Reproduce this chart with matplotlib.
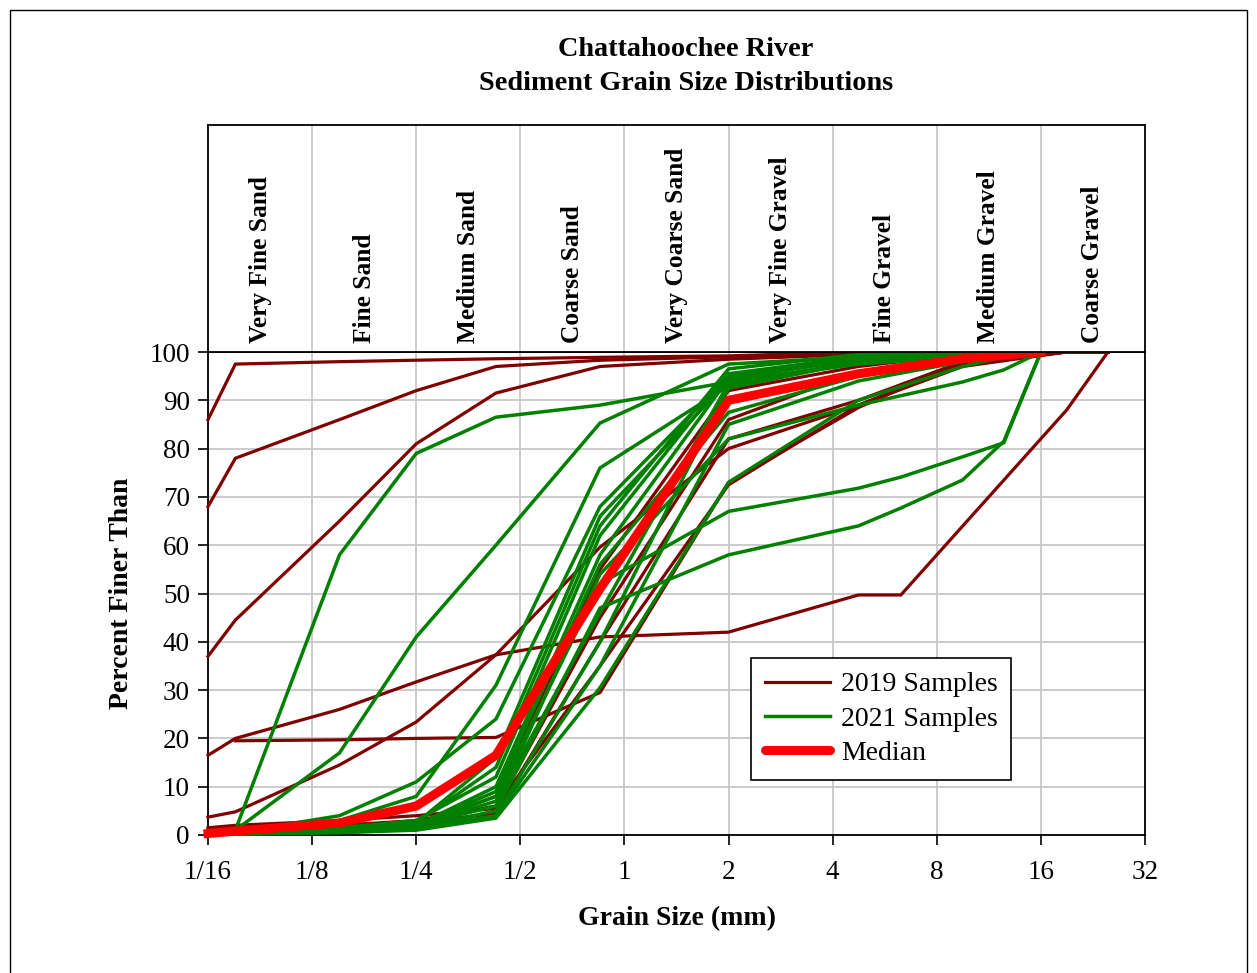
import numpy as np
import matplotlib
matplotlib.use("Agg")
import matplotlib.pyplot as plt
from matplotlib.patches import Rectangle
from matplotlib.lines import Line2D

plt.rcParams['font.family'] = ['Liberation Serif', 'DejaVu Serif']

# ---------------- data ----------------
nan = np.nan
tick_values = [1/16, 1/8, 1/4, 1/2, 1, 2, 4, 8, 16, 32]
tick_labels = ["1/16", "1/8", "1/4", "1/2", "1", "2", "4", "8", "16", "32"]
classes = ["Very Fine Sand", "Fine Sand", "Medium Sand", "Coarse Sand",
           "Very Coarse Sand", "Very Fine Gravel", "Fine Gravel",
           "Medium Gravel", "Coarse Gravel"]

sieve_2019 = [0.0625, 0.075, 0.15, 0.25, 0.425, 0.85, 2.0, 4.75, 6.3, 9.5, 19.0, 25.0]
s2019_a = [86, 97.5, 98, 98.3, 98.6, 98.9, 99.2, 100, nan, 100, 100, 100]
s2019_b = [68, 78, 86, 92, 97, 98.3, 99, 100, nan, 100, 100, 100]
s2019_c = [37, 44.5, 65, 81, 91.5, 97, 98.5, 99.5, nan, 100, 100, 100]
s2019_d = [16.5, 20, 26, 31.7, 37.3, 41, 42, 49.7, 49.7, nan, 88, 100]
s2019_e = [nan, 19.5, 19.7, 20, 20.2, 29.5, 73, 88.5, nan, 98, 100, 100]
s2019_f = [3.7, 4.8, 14.5, 23.4, 37.3, 59.6, 80, 89, nan, 97.5, 100, 100]
s2019_g = [1.5, 2, 3, 4, 5.5, 45, 86, 96, nan, 99, 100, 100]
s2019_h = [1, 1.5, 2, 2.5, 4.5, 40, 82, 90, nan, 98, 100, 100]
s2019_i = [0.5, 1, 1.5, 2, 8, 55, 92, 97, nan, 99.5, 100, 100]
s2019_j = [1, 1.3, 2, 3, 6, 35, 72.5, 89, nan, 97, 100, 100]

sieve_2021 = [0.0625, 0.075, 0.15, 0.25, 0.425, 0.85, 2.0, 4.75, 6.3, 9.5, 12.5, 16.0]
s2021_a = [0.3, 1, 58, 79, 86.5, 89, 93.8, 97.5, nan, 99, 99.5, 100]
s2021_b = [0.3, 1, 17, 41, 60, 85.3, 97.5, 99, nan, 99.5, 100, 100]
s2021_c = [0.2, 0.5, 4, 11, 24, 68, 95, 98.5, nan, 99.5, 100, 100]
s2021_d = [0.2, 0.5, 3, 8, 31, 76, 93, 98, nan, 99.5, 100, 100]
s2021_e = [0.1, 0.3, 0.5, 1, 3.5, 30.5, 73, 90, nan, 97, 99, 100]
s2021_f = [0.1, 0.3, 0.8, 1.5, 5, 47, 58, 64, 67.7, 73.5, 81.5, 100]
s2021_g = [0.1, 0.3, 1, 2, 8, 52, 67, 71.8, 74.1, 78.3, 81.2, 100]
s2021_h = [0.2, 0.5, 1, 2, 6, 54, 82, 89, nan, 93.8, 96.3, 100]
s2021_i = [0.2, 0.5, 1.5, 3, 12, 62, 95.5, 99, nan, 100, 100, 100]
s2021_j = [0.2, 0.4, 1, 2, 10, 58, 94.5, 98.5, nan, 99.5, 100, 100]
s2021_k = [0.1, 0.3, 1, 2.5, 14, 64, 96.5, 99.5, nan, 100, 100, 100]
s2021_l = [0.1, 0.3, 0.8, 2, 7, 46, 93.5, 98, nan, 99.5, 100, 100]
s2021_m = [0.1, 0.2, 0.6, 1.5, 4, 40, 92.5, 98, nan, 99.5, 100, 100]
s2021_n = [0.2, 0.5, 1.2, 2.5, 16, 66, 94, 99, nan, 100, 100, 100]
s2021_o = [0.1, 0.3, 1, 2, 9, 56, 87.5, 95, nan, 98.5, 99.5, 100]
s2021_p = [0.1, 0.2, 0.5, 1.2, 3.8, 35, 85, 94, nan, 98, 99.5, 100]

sieve_median = [0.0625, 0.075, 0.15, 0.25, 0.425, 0.85, 2.0, 4.75, 9.5, 16.0]
median_vals = [0.3, 0.8, 2.5, 6, 16.5, 51, 90, 95.5, 98.6, 100]

samples_2019 = [s2019_a, s2019_b, s2019_c, s2019_d, s2019_e, s2019_f,
                s2019_g, s2019_h, s2019_i, s2019_j]
samples_2021 = [s2021_a, s2021_b, s2021_c, s2021_d, s2021_e, s2021_f,
                s2021_g, s2021_h, s2021_i, s2021_j, s2021_k, s2021_l,
                s2021_m, s2021_n, s2021_o, s2021_p]

C2019 = '#800000'
C2021 = '#008000'
CMED = '#ff0000'

# ---------------- figure ----------------
W, H = 1257, 973
fig = plt.figure(figsize=(W / 100, H / 100), dpi=100)
fig.patch.set_facecolor('white')

L, R, B, T, HT = 208, 1145, 835, 352, 125
ax = fig.add_axes([L / W, (H - B) / H, (R - L) / W, (B - T) / H])
axh = fig.add_axes([L / W, (H - T) / H, (R - L) / W, (T - HT) / H])

for a in (ax, axh):
    a.set_xscale('log', base=2)
    a.set_xlim(1 / 16, 32)

ax.set_ylim(0, 100)
ax.set_yticks(np.arange(0, 101, 10))
ax.set_xticks(tick_values)
ax.set_xticklabels(tick_labels)
ax.xaxis.set_minor_locator(matplotlib.ticker.NullLocator())
ax.tick_params(axis='both', direction='out', length=7, width=1.2,
               labelsize=19.5, color='black')
ax.tick_params(axis='x', pad=11)
ax.tick_params(axis='y', pad=6)
ax.grid(True, color='#c8c8c8', linewidth=1.3)
ax.set_axisbelow(True)
for s in ax.spines.values():
    s.set_color('black')
    s.set_linewidth(1.3)

ax.set_xlabel('Grain Size (mm)', fontsize=20, fontweight='bold', labelpad=15)
ax.set_ylabel('Percent Finer Than', fontsize=20, fontweight='bold', labelpad=11)


def plot_series(xs, ys, color, lw, z):
    xs = np.asarray(xs, float)
    ys = np.asarray(ys, float)
    m = ~np.isnan(ys)
    ax.plot(xs[m], ys[m], color=color, lw=lw, zorder=z, clip_on=False,
            solid_joinstyle='miter')


for s in samples_2019:
    plot_series(sieve_2019, s, C2019, 2.3, 3)
for s in samples_2021:
    plot_series(sieve_2021, s, C2021, 2.5, 4)
plot_series(sieve_median, median_vals, CMED, 6.5, 5)

handles = [Line2D([], [], color=C2019, lw=2.3),
           Line2D([], [], color=C2021, lw=2.5),
           Line2D([], [], color=CMED, lw=6.5, solid_capstyle='round')]
leg = ax.legend(handles, ['2019 Samples', '2021 Samples', 'Median'],
                loc='upper left', bbox_to_anchor=((751 - L) / (R - L), (B - 658) / (B - T)),
                borderaxespad=0, fontsize=20, frameon=True, fancybox=False,
                framealpha=1, edgecolor='black', handlelength=2.35,
                handletextpad=0.38, labelspacing=0.32, borderpad=0.5)
leg.get_frame().set_linewidth(1.2)
leg.set_zorder(10)

# header with classes
axh.set_ylim(0, 1)
axh.set_xticks([])
axh.set_yticks([])
axh.xaxis.set_minor_locator(matplotlib.ticker.NullLocator())
axh.yaxis.set_minor_locator(matplotlib.ticker.NullLocator())
for s in axh.spines.values():
    s.set_color('black')
    s.set_linewidth(1.3)
for v in tick_values[1:-1]:
    axh.axvline(v, color='#c8c8c8', lw=1.3)
for i, name in enumerate(classes):
    xc = np.sqrt(tick_values[i] * tick_values[i + 1])
    axh.text(xc, (T - 343) / (T - HT), name, rotation=90, ha='center', va='bottom',
             fontsize=18.3, fontweight='bold')

# title
fig.text(686 / W, 1 - 50 / H, 'Chattahoochee River', ha='center', va='center',
         fontsize=20.3, fontweight='bold')
fig.text(686 / W, 1 - 83 / H, 'Sediment Grain Size Distributions', ha='center',
         va='center', fontsize=20.3, fontweight='bold')

# outer border
fig.patches.append(Rectangle((10 / W, -0.01), (W - 20) / W, 1 - 10 / H + 0.01,
                             transform=fig.transFigure, fill=False,
                             edgecolor='black', lw=1.0))

fig.savefig('out.png', dpi=100)
